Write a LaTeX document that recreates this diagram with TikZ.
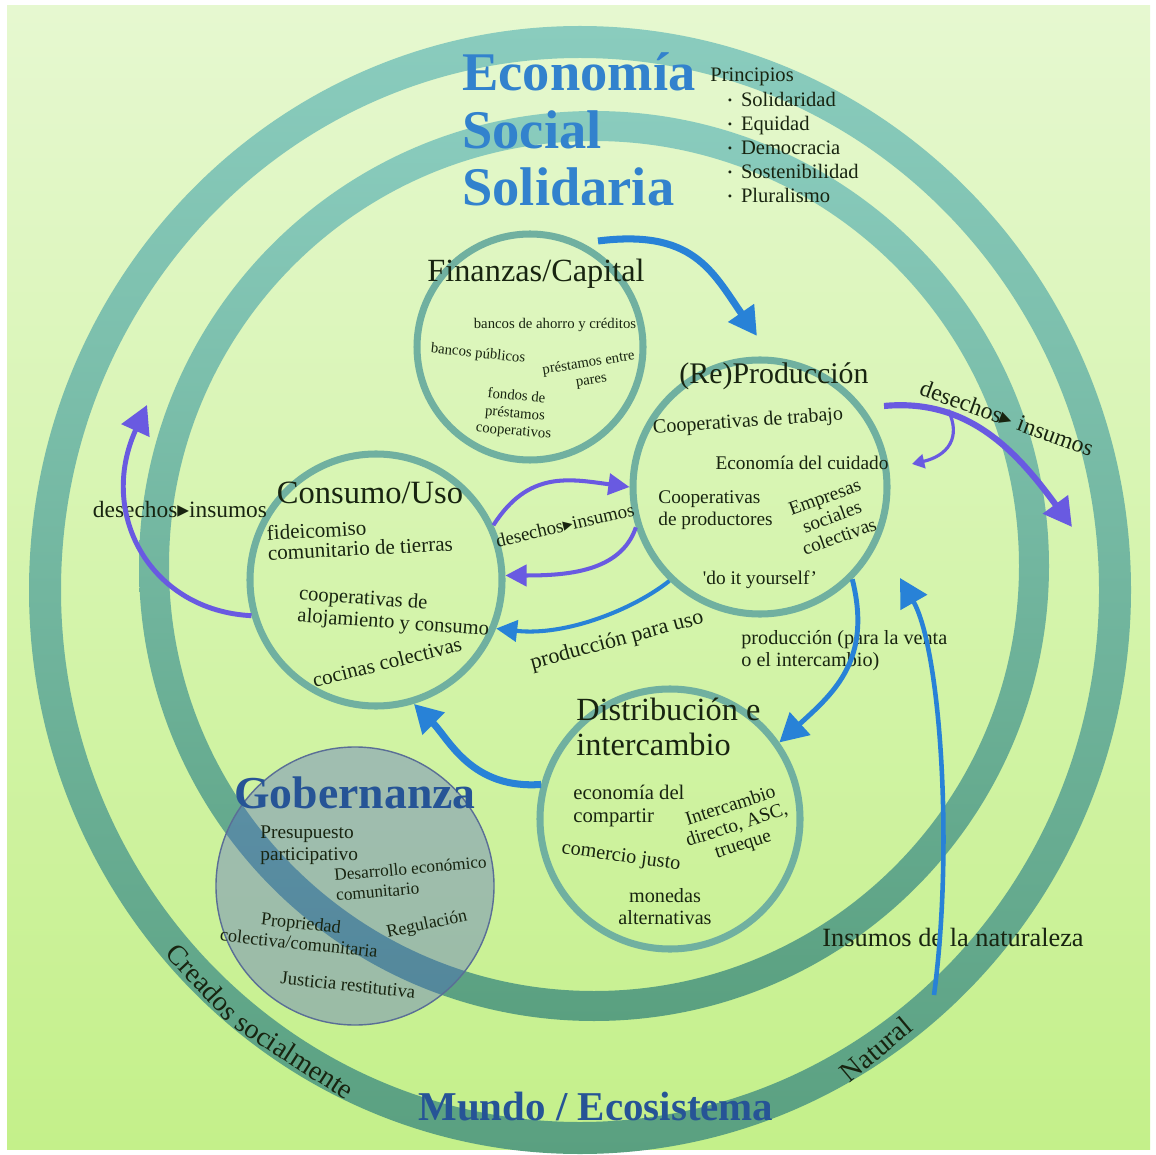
\documentclass[tikz,border=0pt]{standalone}
\usepackage{fontspec}
\setmainfont{Liberation Serif}
\newfontfamily\symfont{DejaVu Sans}
\usetikzlibrary{arrows.meta,positioning}

\definecolor{bgtop}{RGB}{230,248,208}
\definecolor{bgbot}{RGB}{196,240,138}
\definecolor{ringtop}{RGB}{138,204,190}
\definecolor{ringbot}{RGB}{90,160,128}
\definecolor{circline}{RGB}{112,176,160}
\definecolor{txt}{RGB}{24,36,16}
\definecolor{essblue}{RGB}{50,130,205}
\definecolor{govblue}{RGB}{38,84,150}
\definecolor{govfill}{RGB}{70,88,205}
\definecolor{govline}{RGB}{90,110,150}
\definecolor{purp}{RGB}{105,90,225}
\definecolor{arrblue}{RGB}{40,130,215}

\newcommand\fsz[2]{\fontsize{#1}{#2}\selectfont}
\newcommand\dtoi{{\symfont ▸}}
\newcommand\pbul{\hspace*{10pt}\raisebox{1pt}{\fsz{7}{7}\textbullet}\hspace{5pt}}

\begin{document}
\begin{tikzpicture}[x=0.2mm,y=-0.2mm,
  sector/.style={circle,draw=circline,line width=4pt,inner sep=0pt},
  sechead/.style={text=txt,inner sep=0pt,align=left,font=\fsz{18.4}{20}},
  secitem/.style={text=txt,inner sep=0pt,align=center,font=\fsz{11.5}{12.5}},
  esstitle/.style={text=essblue,inner sep=0pt,font=\fsz{31}{33}\bfseries},
  govtitle/.style={text=govblue,inner sep=0pt,font=\bfseries},
  parr/.style={draw=purp,line width=#1},
  barr/.style={draw=arrblue,line width=#1},
  bigtip/.style={-{Triangle[length=16pt,width=17pt]}},
  midtip/.style={-{Triangle[length=12pt,width=12pt]}},
  smalltip/.style={-{Triangle[length=7pt,width=8pt]}}]
\useasboundingbox (0,0) rectangle (1156,1155);
\fill[white] (0,0) rectangle (1156,1155);
\shade[top color=bgtop,bottom color=bgbot] (7,6) rectangle (1150,1149);

\shade[top color=ringtop,bottom color=ringbot,even odd rule]
  (580,590) ellipse[x radius=551,y radius=564] (580,590) ellipse[x radius=519,y radius=532];
\shade[top color=ringtop,bottom color=ringbot,even odd rule]
  (594,566) circle[radius=455] (594,566) circle[radius=425];

\node[circle,draw=govline,fill=govfill,fill opacity=0.34,line width=0.8pt,inner sep=0pt,minimum size=55.6mm] (gob) at (355,886) {};
\node[sector,minimum size=45.2mm] (fin) at (530,347) {};
\node[sector,minimum size=50.8mm] (prod) at (760,487) {};
\node[sector,minimum size=50.4mm] (cons) at (376,580) {};
\node[sector,minimum size=52mm] (dist) at (670,819) {};

\node[esstitle,anchor=base west] (ess1) at (462,91) {Economía};
\node[esstitle,anchor=base west] (ess2) at (462,149) {Social};
\node[esstitle,anchor=base west] (ess3) at (462,206) {Solidaria};
\node[secitem,align=left,anchor=north west,font=\fsz{11.7}{13.7}] (prin) at (710,68)
  {Principios\\ \pbul Solidaridad\\ \pbul Equidad\\ \pbul Democracia\\ \pbul Sostenibilidad\\ \pbul Pluralismo};

\node[sechead] (finT) at (536,274) {Finanzas/Capital};
\node[secitem,font=\fsz{8.4}{10}] (f1) at (555,325) {bancos de ahorro y créditos};
\node[secitem,font=\fsz{8.4}{10},rotate=-6] (f2) at (478,354) {bancos públicos};
\node[secitem,font=\fsz{8.4}{10},rotate=9] (f3) at (590,372) {préstamos entre\\pares};
\node[secitem,font=\fsz{8.4}{10},rotate=-5] (f4) at (515,414) {fondos de\\préstamos\\cooperativos};

\node[sechead,font=\fsz{17}{19}] (prodT) at (774,376) {(Re)Producción};
\node[secitem,font=\fsz{11.4}{12.5},rotate=4] (p1) at (748,422) {Cooperativas de trabajo};
\node[secitem,font=\fsz{11}{12.5}] (p2) at (802,463) {Economía del cuidado};
\node[secitem,font=\fsz{11}{12.5},align=left,anchor=west] (p3) at (658,510) {Cooperativas\\de productores};
\node[secitem,font=\fsz{11}{12},rotate=20] (p4) at (832,517) {Empresas\\sociales\\colectivas};
\node[secitem,font=\fsz{11}{12.5}] (p5) at (760,580) {\textquotesingle do it yourself'};

\node[sechead,font=\fsz{18.5}{20}] (consT) at (370,493) {Consumo/Uso};
\node[secitem,font=\fsz{12}{11.5},align=left,anchor=west,rotate=3] (c1) at (267,543) {fideicomiso\\comunitario de tierras};
\node[secitem,font=\fsz{11.7}{12.5},align=left,anchor=west,rotate=-4] (c2) at (298,606) {cooperativas de\\alojamiento y consumo};
\node[secitem,font=\fsz{12}{12},rotate=14] (c3) at (387,662) {cocinas colectivas};

\node[sechead,font=\fsz{18.4}{20}] (distT) at (576,727) [anchor=west] {Distribución e\\intercambio};
\node[secitem,font=\fsz{11.8}{12.8},align=left,anchor=west] (d1) at (573,806) {economía del\\compartir};
\node[secitem,font=\fsz{11}{11.5},rotate=18] (d2) at (737,826) {Intercambio\\directo, ASC,\\trueque};
\node[secitem,font=\fsz{11.5}{12},rotate=-8] (d3) at (621,857) {comercio justo};
\node[secitem,font=\fsz{11.5}{12.5}] (d4) at (665,907) {monedas\\alternativas};

\node[govtitle,font=\fsz{26}{28}\bfseries] (gobT) at (355,793) {Gobernanza};
\node[secitem,font=\fsz{11}{12.5},align=left,anchor=west] (g1) at (260,845) {Presupuesto\\participativo};
\node[secitem,font=\fsz{9.8}{11.5},align=left,anchor=west,rotate=5] (g2) at (335,885) {Desarrollo económico\\comunitario};
\node[secitem,font=\fsz{10.4}{11.5},rotate=-6] (g3) at (300,933) {Propriedad\\colectiva/comunitaria};
\node[secitem,font=\fsz{10.2}{11},rotate=12] (g4) at (427,925) {Regulación};
\node[secitem,font=\fsz{10.6}{11},rotate=-6] (g5) at (348,985) {Justicia restitutiva};

\node[secitem,font=\fsz{13.3}{14}] (wl) at (180,510) {desechos\dtoi insumos};
\node[secitem,font=\fsz{10.8}{12},rotate=13] (wm) at (565,525) {desechos\dtoi insumos};
\node[secitem,font=\fsz{13.5}{14},rotate=-20] (wr) at (1007,418) {desechos\dtoi\ insumos};
\node[secitem,font=\fsz{12.5}{13},rotate=15] (puso) at (617,641) {producción para uso};
\node[secitem,font=\fsz{11.5}{12.5},align=left,anchor=west] (pventa) at (741,651) {producción (para la venta\\o el intercambio)};
\node[secitem,font=\fsz{15}{16}] (nat) at (953,937) {Insumos de la naturaleza};
\node[govtitle,font=\fsz{23.3}{25}\bfseries] (mundo) at (596,1107) {Mundo / Ecosistema};

\node[secitem,font=\fsz{16}{16},rotate=-47] (cre1) at (203,982) {Creados};
\node[secitem,font=\fsz{16}{16},rotate=-33] (cre2) at (295,1056) {socialmente};
\node[secitem,font=\fsz{16}{16},rotate=40] (natl) at (876,1049) {Natural};

\coordinate (a1s) at (598,241);
\coordinate (a1e) at (757,336);
\coordinate (a2s) at (884,406);
\coordinate (a2e) at (1072,527);
\coordinate (a3s) at (948,410);
\coordinate (a3e) at (912,464);
\coordinate (a4e) at (147,405);
\coordinate (a10s) at (934,995);
\coordinate (a10e) at (900,578);

\draw[barr=4pt,bigtip] (a1s) .. controls +(95,-12) and +(-45,-65) .. (a1e);
\draw[parr=3.5pt,bigtip] (a2s) .. controls +(85,-8) and +(-55,-75) .. (a2e);
\draw[parr=1.8pt,smalltip] (a3s) .. controls +(14,28) and +(35,-8) .. (a3e);
\draw[parr=2.8pt,bigtip] (cons.196) .. controls +(-100,-5) and +(-50,110) .. (a4e);
\draw[parr=2.3pt,midtip] (cons.25) .. controls +(35,-55) and +(-60,-8) .. (prod.180);
\draw[parr=2.3pt,midtip] (prod.198) .. controls +(-15,45) and +(60,0) .. (cons.2);
\draw[barr=2.3pt,midtip] (prod.226) .. controls +(-35,28) and +(70,8) .. (cons.-22);
\draw[barr=2.8pt,bigtip] (prod.-45) .. controls +(20,80) and +(55,-50) .. (dist.35);
\draw[barr=4pt,bigtip] (dist.165) .. controls +(-70,5) and +(35,35) .. (cons.-73);
\draw[barr=2.6pt,bigtip] (a10s) .. controls +(20,-150) and +(40,70) .. (a10e);
\end{tikzpicture}
\end{document}
